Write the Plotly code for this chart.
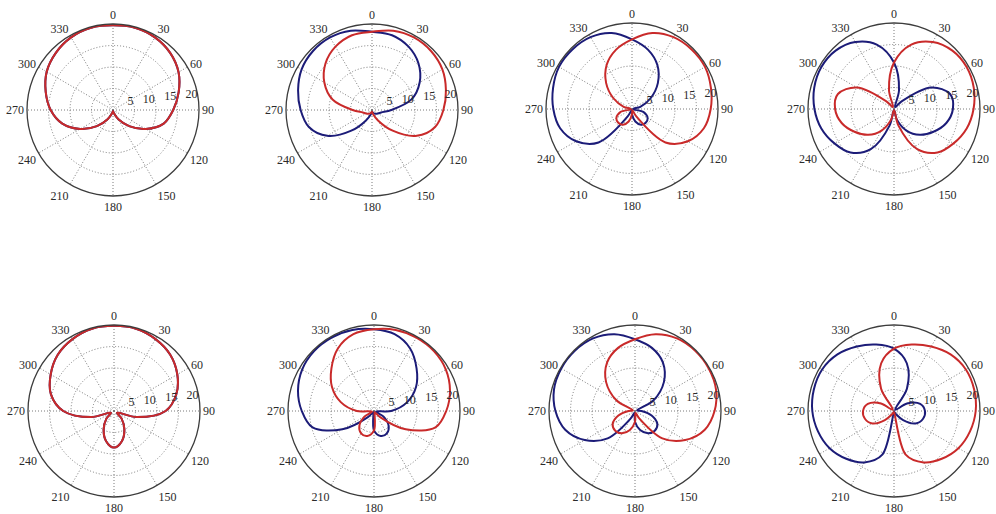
import plotly.graph_objects as go

# Sampled radiation patterns (gain, 0-20 scale) every 15 degrees, clockwise from north
THETA = list(range(0, 360, 15))
ANGLE_TICKS = list(range(0, 360, 30))
ANGLE_LABELS = [str(a) for a in ANGLE_TICKS]
RADIAL_TICKS = [5, 10, 15, 20]

P1_RED = [19.7, 19.8, 19.5, 18.8, 17.6, 15.8, 14.0, 12.2, 8.8, 5.3, 2.5, 0.8,
          0.3, 0.8, 2.5, 5.3, 8.8, 12.2, 14.5, 16.2, 17.8, 18.8, 19.5, 19.8]
P1_BLUE = [19.7, 19.8, 19.5, 18.8, 17.6, 15.8, 14.0, 12.2, 8.8, 5.3, 2.5, 0.8,
           0.3, 0.8, 2.5, 5.3, 8.8, 12.2, 14.5, 16.2, 17.8, 18.8, 19.5, 19.8]

P2_RED = [18.2, 19.1, 19.5, 19.4, 18.9, 17.8, 16.6, 15.2, 12.0, 6.8, 2.8, 1.0,
          0.4, 0.6, 0.9, 1.2, 1.6, 2.2, 4.5, 9.5, 12.8, 15.3, 17.0, 18.0]
P2_BLUE = [18.2, 18.0, 17.0, 15.3, 12.8, 9.5, 4.5, 2.2, 1.6, 1.2, 0.9, 0.6,
           0.4, 1.0, 2.8, 6.8, 12.0, 15.2, 16.6, 17.8, 18.9, 19.4, 19.5, 19.1]

P3_RED = [16.2, 18.3, 19.3, 19.6, 19.6, 19.0, 18.3, 17.3, 15.0, 11.0, 2.0, 0.3,
          1.2, 3.0, 4.2, 4.5, 4.2, 2.8, 0.3, 2.0, 5.0, 8.5, 11.8, 14.3]
P3_BLUE = [16.2, 14.3, 11.8, 8.5, 5.0, 2.0, 0.3, 2.8, 4.2, 4.5, 4.2, 3.0,
           1.2, 0.3, 2.0, 11.0, 15.0, 17.3, 18.3, 19.0, 19.6, 19.6, 19.3, 18.3]

P4_RED = [10.8, 15.5, 18.0, 19.2, 19.5, 19.2, 18.5, 17.5, 16.0, 14.3, 10.8, 4.0,
          0.3, 2.5, 5.8, 8.5, 10.6, 12.6, 13.7, 13.5, 10.0, 2.5, 0.5, 4.5]
P4_BLUE = [10.8, 4.5, 0.5, 2.5, 10.0, 13.5, 13.7, 12.6, 10.6, 8.5, 5.8, 2.5,
           0.3, 4.0, 10.8, 14.3, 16.0, 17.5, 18.5, 19.2, 19.5, 19.2, 18.0, 15.5]

P5_RED = [19.8, 19.8, 19.3, 18.5, 17.0, 15.0, 12.0, 5.5, 0.8, 2.5, 4.8, 7.2,
          8.5, 7.2, 4.8, 2.5, 0.8, 5.5, 11.8, 15.2, 17.0, 18.5, 19.3, 19.8]
P5_BLUE = [19.8, 19.8, 19.3, 18.5, 17.0, 15.0, 12.0, 5.5, 0.8, 2.5, 4.8, 7.2,
           8.5, 7.2, 4.8, 2.5, 0.8, 5.5, 11.8, 15.2, 17.0, 18.5, 19.3, 19.8]

P6_RED = [19.0, 19.5, 19.7, 19.7, 19.3, 18.3, 16.8, 14.8, 8.5, 2.0, 0.3, 0.5,
          4.5, 6.0, 6.0, 4.8, 2.5, 0.5, 4.0, 8.0, 11.3, 14.0, 16.8, 18.5]
P6_BLUE = [19.0, 18.5, 16.8, 14.0, 11.3, 8.0, 4.0, 0.5, 2.5, 4.8, 6.0, 6.0,
           4.5, 0.5, 0.3, 2.0, 8.5, 14.8, 16.8, 18.3, 19.3, 19.7, 19.7, 19.5]

P7_RED = [16.7, 18.5, 19.5, 19.8, 19.8, 19.5, 18.5, 16.8, 13.5, 9.0, 2.0, 0.5,
          2.5, 4.6, 6.0, 6.5, 6.0, 4.0, 1.5, 0.5, 5.0, 9.5, 13.0, 15.2]
P7_BLUE = [16.7, 15.2, 13.0, 9.5, 5.0, 0.5, 1.5, 4.0, 6.0, 6.5, 6.0, 4.6,
           2.5, 0.5, 2.0, 9.0, 13.5, 16.8, 18.5, 19.5, 19.8, 19.8, 19.5, 18.5]

P8_RED = [14.5, 16.0, 17.3, 18.6, 19.3, 19.3, 19.0, 18.3, 17.3, 15.7, 13.8, 10.5,
          0.3, 0.3, 0.8, 3.0, 5.8, 7.0, 7.2, 6.3, 3.5, 0.4, 6.0, 11.5]
P8_BLUE = [14.5, 11.5, 6.0, 0.4, 3.5, 6.3, 7.2, 7.0, 5.8, 3.0, 0.8, 0.3,
           0.3, 10.5, 13.8, 15.7, 17.3, 18.3, 19.0, 19.3, 19.3, 18.6, 17.3, 16.0]

PATTERNS = [
    (P1_BLUE, P1_RED), (P2_BLUE, P2_RED), (P3_BLUE, P3_RED), (P4_BLUE, P4_RED),
    (P5_BLUE, P5_RED), (P6_BLUE, P6_RED), (P7_BLUE, P7_RED), (P8_BLUE, P8_RED),
]

# Page geometry: pixel centres of the eight polar plots and their radius
W, H = 996, 514
RADIUS = 86
CENTERS = [(113, 110), (372, 110), (632, 109), (894, 109),
           (114, 411), (374, 411), (635, 411), (894, 411)]

BLUE = "#1c1c78"
RED = "#c92a2a"
TEXT = "#2a2a2a"
GRID = "#7a7a7a"
FONT = "Liberation Serif"
RADIAL_ANGLE = 6
# radial labels sit just right of their ring, so pad them on the left
PAD = "\u00a0" * 8

fig = go.Figure()
layout = dict(
    width=W, height=H,
    margin=dict(l=0, r=0, t=0, b=0),
    paper_bgcolor="white",
    showlegend=False,
)

for i, ((blue, red), (cx, cy)) in enumerate(zip(PATTERNS, CENTERS)):
    name = "polar" if i == 0 else f"polar{i + 1}"
    for vals, color in ((blue, BLUE), (red, RED)):
        fig.add_trace(go.Scatterpolar(
            r=vals + vals[:1],
            theta=THETA + [360],
            mode="lines",
            line=dict(color=color, width=2, shape="spline", smoothing=1.0),
            subplot=name,
            hoverinfo="skip",
        ))
    layout[name] = dict(
        domain=dict(
            x=[(cx - RADIUS) / W, (cx + RADIUS) / W],
            y=[1 - (cy + RADIUS) / H, 1 - (cy - RADIUS) / H],
        ),
        bgcolor="white",
        angularaxis=dict(
            rotation=90,
            direction="clockwise",
            tickmode="array",
            tickvals=ANGLE_TICKS,
            ticktext=ANGLE_LABELS,
            ticks="",
            showline=True,
            linecolor="#3c3c3c",
            linewidth=1.3,
            gridcolor=GRID,
            griddash="1px,2px",
            gridwidth=1,
            tickfont=dict(family=FONT, size=12, color=TEXT),
        ),
        radialaxis=dict(
            range=[0, 20],
            tickmode="array",
            tickvals=RADIAL_TICKS,
            ticktext=[PAD + str(v) for v in RADIAL_TICKS],
            angle=RADIAL_ANGLE,
            tickangle=RADIAL_ANGLE,
            side="counterclockwise",
            showline=False,
            ticks="",
            gridcolor=GRID,
            griddash="1px,2px",
            gridwidth=1,
            tickfont=dict(family=FONT, size=12, color=TEXT),
        ),
    )

fig.update_layout(**layout)
fig.write_html("out.html")
